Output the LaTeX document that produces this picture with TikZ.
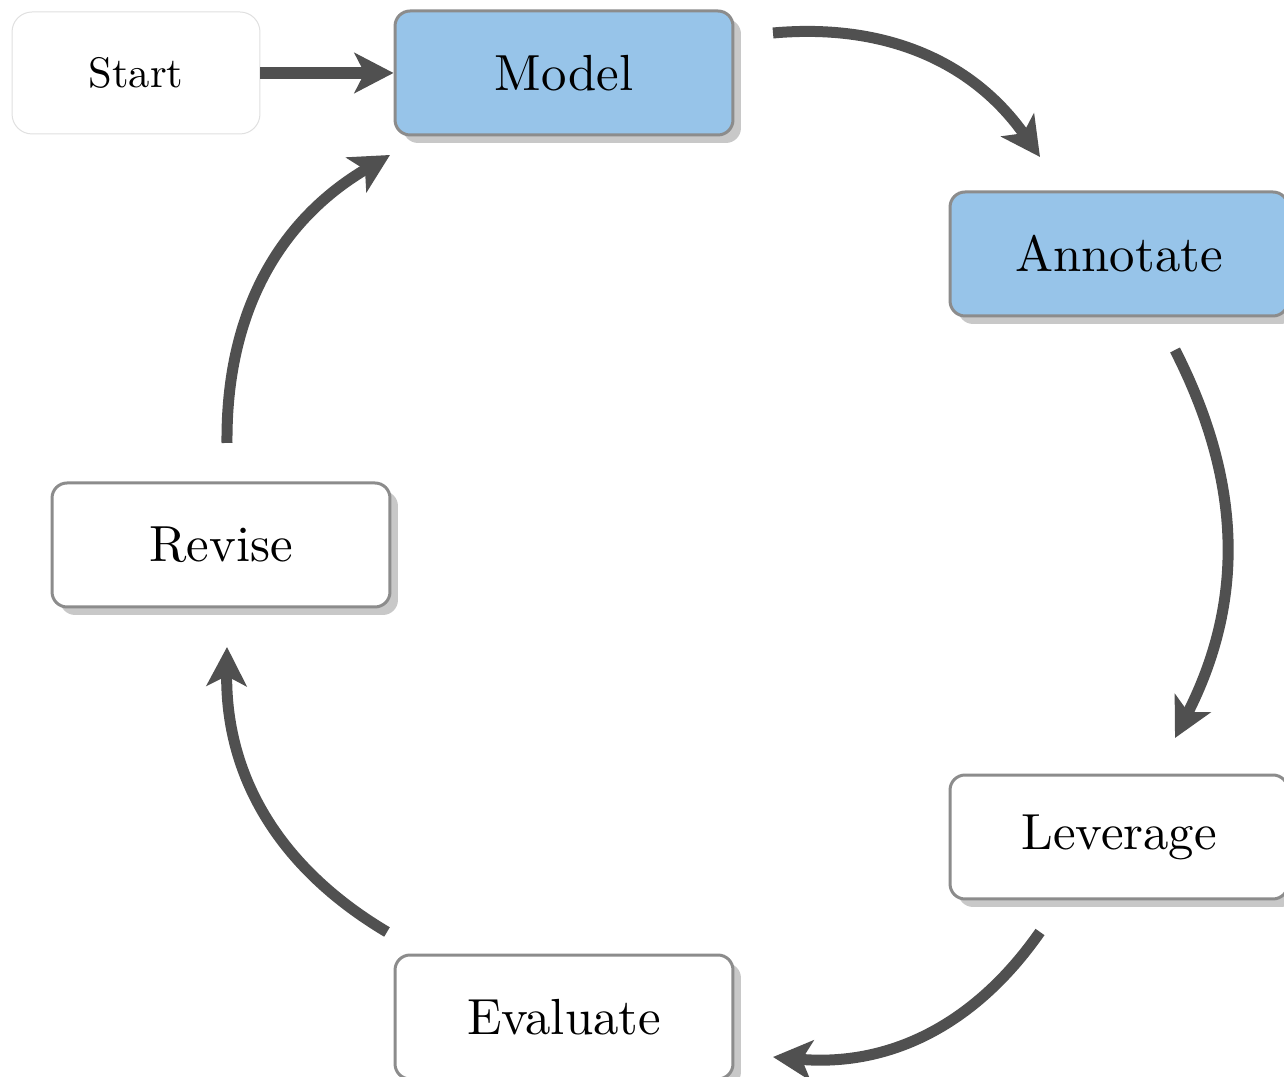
\documentclass[tikz,border=0pt]{standalone}
\usepackage{graphicx}
\usetikzlibrary{arrows.meta,shadows}
\definecolor{stepblue}{RGB}{151,196,233}
\definecolor{stepedge}{RGB}{140,140,140}
\definecolor{flowgray}{RGB}{80,80,80}
\definecolor{shadowgray}{RGB}{200,200,200}
% labels are set in the 10pt design and enlarged
\newcommand{\stagelabel}[1]{\scalebox{2.89}{\fontsize{10}{12}\selectfont #1}}
\newcommand{\entrylabel}[1]{\scalebox{2.43}{\fontsize{10}{12}\selectfont #1}}
\begin{document}
\begin{tikzpicture}[x=0.02cm,y=0.02cm,
  stage/.style={draw=stepedge, line width=0.06cm, rounded corners=0.3cm,
    fill=white, minimum width=6.76cm, minimum height=2.48cm,
    drop shadow={shadow xshift=0.16cm, shadow yshift=-0.16cm, fill=shadowgray, opacity=1}},
  active/.style={stage, fill=stepblue},
  entry/.style={draw=black!12, line width=0.02cm, rounded corners=0.4cm,
    fill=white, minimum width=4.96cm, minimum height=2.44cm},
  flow/.style={draw=flowgray, line width=0.22cm,
    -{Stealth[length=0.78cm, width=0.8cm, inset=0.2cm, fill=flowgray]}},
  cycle/.style={flow, bend left=30}]
  \useasboundingbox (0,0) rectangle (1284,1077);

  % stages of the cycle
  \node[entry]  (start)    at (136,1004) {\entrylabel{Start}};
  \node[active] (model)    at (564,1004) {\stagelabel{Model}};
  \node[active] (annotate) at (1119,823) {\stagelabel{Annotate}};
  \node[stage]  (leverage) at (1119,240) {\stagelabel{Leverage}};
  \node[stage]  (evaluate) at (564,60)   {\stagelabel{Evaluate}};
  \node[stage]  (revise)   at (221,532)  {\stagelabel{Revise}};

  % end points of the curved connectors
  \coordinate (ma-s) at (773,1044);  \coordinate (ma-e) at (1040,920);
  \coordinate (al-s) at (1175,727);  \coordinate (al-e) at (1175,339);
  \coordinate (le-s) at (1040,145);  \coordinate (le-e) at (773,20);
  \coordinate (er-s) at (387,145);   \coordinate (er-e) at (227,430);
  \coordinate (rm-s) at (227,634);   \coordinate (rm-e) at (390,922);

  % connectors
  \draw[flow, line width=0.24cm] (start) -- (model);
  \draw[cycle] (ma-s) to (ma-e);
  \draw[cycle, bend left=27] (al-s) to (al-e);
  \draw[cycle] (le-s) to (le-e);
  \draw[cycle] (er-s) to (er-e);
  \draw[cycle] (rm-s) to (rm-e);
\end{tikzpicture}
\end{document}
